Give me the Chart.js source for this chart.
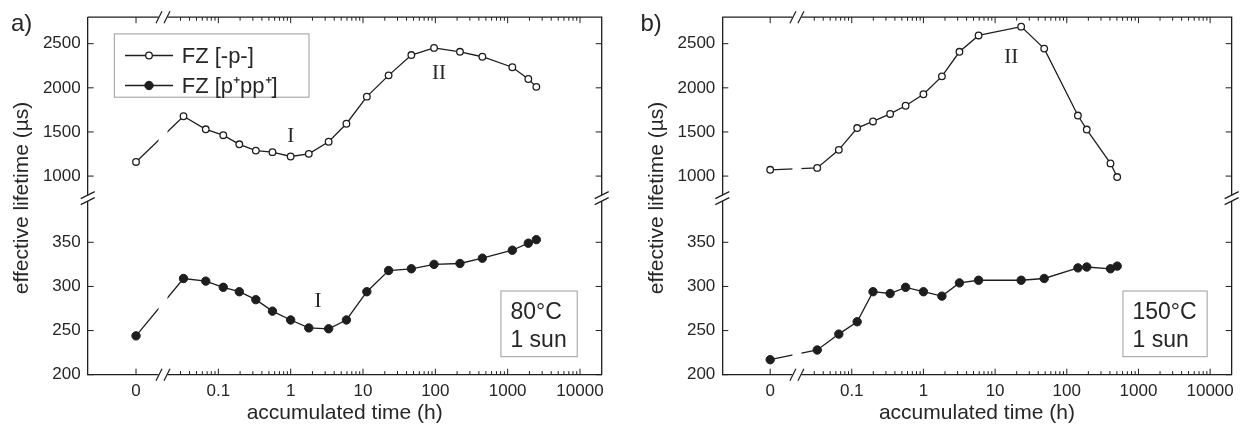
<!DOCTYPE html>
<html>
<head>
<meta charset="utf-8">
<script src="https://cdn.jsdelivr.net/npm/chart.js@4.4.1/dist/chart.umd.min.js"></script>
<style>
  html, body { margin: 0; padding: 0; background: #fff; }
  #wrap { position: relative; width: 1240px; height: 433px; }
  canvas { position: absolute; top: 0; }
</style>
</head>
<body>
<div id="wrap">
  <canvas id="panelA" width="620" height="433" style="left:0"></canvas>
  <canvas id="panelB" width="620" height="433" style="left:620px"></canvas>
</div>
<script>
// accumulated time (h) and effective lifetime (µs), 80°C / 1 sun
const hoursA = [0, 0.033, 0.067, 0.117, 0.195, 0.33, 0.56, 1.0, 1.78, 3.35, 5.9, 11.3, 22.6, 46.6, 96, 219, 447, 1160, 1930, 2490];
const fzA = [1160, 1678, 1530, 1463, 1360, 1289, 1271, 1222, 1252, 1389, 1593, 1900, 2141, 2371, 2452, 2408, 2352, 2233, 2100, 2011];
const fzPppA = [244, 309, 306, 299, 294, 285, 272, 262, 253, 252, 262, 294, 318, 320, 325, 326, 332, 341, 349, 353];

// 150°C / 1 sun
const hoursB = [0, 0.033, 0.066, 0.119, 0.198, 0.343, 0.564, 1.0, 1.81, 3.18, 5.88, 23.1, 48.4, 143, 190, 407, 505];
const fzB = [1071, 1093, 1297, 1544, 1619, 1704, 1797, 1927, 2130, 2408, 2593, 2693, 2444, 1686, 1527, 1144, 989];
const fzPppB = [217, 228, 246, 260, 294, 292, 299, 294, 289, 304, 307, 307, 309, 321, 322, 320, 323];

const xTickHours = [0, 0.1, 1, 10, 100, 1000, 10000];
const xTickLabels = ['0', '0.1', '1', '10', '100', '1000', '10000'];
const upperTicks = [1000, 1500, 2000, 2500];
const lowerTicks = [200, 250, 300, 350];

// x axis runs in decades; t = 0 gets its own spot left of the break
const ZERO_POS = -2.138;
const X_MIN = -2.806, X_MAX = 4.30;
const X_BREAK = -1.765;
const axisPos = h => (h === 0 ? ZERO_POS : Math.log10(h));

const SANS = '"Liberation Sans", Arial, sans-serif';
const SERIF = '"Liberation Serif", "Times New Roman", serif';
const INK = '#1e1e1e';
const TEXT = '#262626';

function slash(ctx, x, y, dx, dy) {
  ctx.moveTo(x - dx, y + dy);
  ctx.lineTo(x + dx, y - dy);
}

function makePanel(id, p) {
  const decor = {
    id: 'decor',
    afterDatasetsDraw(chart) {
      const ctx = chart.ctx;
      const a = chart.chartArea;
      const x = chart.scales.x, yT = chart.scales.yTop, yB = chart.scales.yBot;
      ctx.save();
      ctx.strokeStyle = INK;
      ctx.lineWidth = 1.3;
      ctx.beginPath();
      ctx.moveTo(a.left, a.top);
      ctx.lineTo(a.right, a.top);
      ctx.lineTo(a.right, a.bottom);
      ctx.stroke();

      // inward ticks on all four sides
      const bx = x.getPixelForValue(X_BREAK);
      ctx.lineWidth = 1;
      ctx.beginPath();
      const tickX = (u, len) => {
        const px = x.getPixelForValue(u);
        ctx.moveTo(px, a.bottom); ctx.lineTo(px, a.bottom - len);
        ctx.moveTo(px, a.top); ctx.lineTo(px, a.top + len);
      };
      xTickHours.forEach(h => tickX(axisPos(h), 6));
      for (let d = -2; d <= 3; d++) {
        for (let k = 2; k <= 9; k++) {
          const u = Math.log10(k * Math.pow(10, d));
          if (x.getPixelForValue(u) > bx + 8 && u < X_MAX) tickX(u, 3.5);
        }
      }
      const tickY = (s, v) => {
        const py = s.getPixelForValue(v);
        ctx.moveTo(a.left, py); ctx.lineTo(a.left + 6, py);
        ctx.moveTo(a.right, py); ctx.lineTo(a.right - 6, py);
      };
      upperTicks.forEach(v => tickY(yT, v));
      lowerTicks.forEach(v => tickY(yB, v));
      ctx.stroke();

      // x break: cut the axes and the lines crossing it
      ctx.fillStyle = '#fff';
      ctx.fillRect(bx - 4.5, a.top - 3, 9, a.bottom - a.top + 6);
      // y break between the two stacked axes
      const yb = yB.top;
      ctx.fillRect(a.left - 3, yb - 3, 6, 6);
      ctx.fillRect(a.right - 3, yb - 3, 6, 6);

      ctx.lineWidth = 1.2;
      ctx.beginPath();
      [a.top, a.bottom].forEach(yy => {
        slash(ctx, bx - 4, yy, 3, 6);
        slash(ctx, bx + 4, yy, 3, 6);
      });
      [a.left, a.right].forEach(xx => {
        slash(ctx, xx, yb - 3, 7, 3.5);
        slash(ctx, xx, yb + 3, 7, 3.5);
      });
      ctx.stroke();
      ctx.restore();
    },
    afterDraw(chart) {
      const ctx = chart.ctx;
      const a = chart.chartArea;
      const x = chart.scales.x;
      ctx.save();
      ctx.fillStyle = TEXT;

      // axis titles
      ctx.font = '21px ' + SANS;
      ctx.textAlign = 'center';
      ctx.textBaseline = 'alphabetic';
      ctx.fillText('accumulated time (h)', (a.left + a.right) / 2, a.bottom + 44);
      ctx.save();
      ctx.translate(a.left - 59.4, (a.top + a.bottom) / 2 + 2);
      ctx.rotate(-Math.PI / 2);
      ctx.fillText('effective lifetime (µs)', 0, 0);
      ctx.restore();

      // panel letter
      ctx.font = '24px ' + SANS;
      ctx.textAlign = 'left';
      ctx.fillText(p.letter, p.letterX, 31);

      // roman numerals marking the stages
      ctx.font = '21px ' + SERIF;
      ctx.textAlign = 'center';
      ctx.textBaseline = 'middle';
      p.notes.forEach(n => {
        ctx.fillText(n.text, x.getPixelForValue(axisPos(n.hours)), chart.scales[n.axis].getPixelForValue(n.value));
      });

      // condition box, bottom right
      ctx.font = '23px ' + SANS;
      ctx.textAlign = 'left';
      ctx.textBaseline = 'alphabetic';
      const w = Math.max(...p.condition.map(s => ctx.measureText(s).width)) + 20;
      const bxR = a.right - 24.5, bxB = a.bottom - 18;
      ctx.strokeStyle = '#9c9c9c';
      ctx.lineWidth = 1;
      ctx.strokeRect(bxR - w, bxB - 65.7, w, 65.7);
      p.condition.forEach((s, i) => ctx.fillText(s, bxR - w + 9.5, bxB - 37.4 + i * 27.4));

      // legend
      if (p.legend) {
        const lx = a.left + 26.6, ly = a.top + 16.7;
        ctx.strokeRect(lx, ly, 194.7, 63.3);
        ctx.font = '22px ' + SANS;
        ctx.textBaseline = 'middle';
        chart.data.datasets.forEach((ds, i) => {
          const ry = ly + 21.6 + i * 30;
          ctx.strokeStyle = ds.borderColor;
          ctx.lineWidth = ds.borderWidth;
          ctx.beginPath();
          ctx.moveTo(lx + 10.7, ry);
          ctx.lineTo(lx + 58.7, ry);
          ctx.stroke();
          ctx.beginPath();
          ctx.arc(lx + 34.7, ry, ds.pointRadius, 0, Math.PI * 2);
          ctx.fillStyle = ds.pointBackgroundColor;
          ctx.fill();
          ctx.lineWidth = ds.pointBorderWidth;
          ctx.stroke();
          ctx.fillStyle = TEXT;
          ctx.fillText(ds.label, lx + 67.4, ry + 1);
        });
      }
      ctx.restore();
    }
  };

  const fixedWidth = s => { s.width = p.axisWidth; };
  const yCommon = {
    type: 'linear',
    position: 'left',
    stack: 'lifetime',
    grid: { display: false, drawTicks: false },
    border: { color: INK, width: 1.3 },
    ticks: {
      color: TEXT,
      font: { family: SANS, size: 17 },
      padding: 7,
      callback: v => String(v)
    },
    afterFit: fixedWidth
  };

  return new Chart(document.getElementById(id), {
    type: 'line',
    data: {
      datasets: [
        {
          label: 'FZ [-p-]',
          data: p.hours.map((h, i) => ({ x: axisPos(h), y: p.open[i] })),
          yAxisID: 'yTop',
          borderColor: INK,
          borderWidth: 1.3,
          pointRadius: 3.3,
          pointBorderWidth: 1.3,
          pointBackgroundColor: '#fff',
          pointBorderColor: INK,
          tension: 0
        },
        {
          label: 'FZ [p⁺pp⁺]',
          data: p.hours.map((h, i) => ({ x: axisPos(h), y: p.filled[i] })),
          yAxisID: 'yBot',
          borderColor: INK,
          borderWidth: 1.3,
          pointRadius: 4.2,
          pointBorderWidth: 1,
          pointBackgroundColor: INK,
          pointBorderColor: INK,
          tension: 0
        }
      ]
    },
    options: {
      responsive: false,
      animation: false,
      events: [],
      layout: { padding: { top: 10, right: p.padRight, left: 0, bottom: 0 } },
      plugins: { legend: { display: false }, tooltip: { enabled: false } },
      scales: {
        x: {
          type: 'linear',
          min: X_MIN,
          max: X_MAX,
          grid: { display: false, drawTicks: false },
          border: { color: INK, width: 1.3 },
          ticks: {
            color: TEXT,
            font: { family: SANS, size: 17 },
            padding: 6,
            autoSkip: false,
            maxRotation: 0,
            callback: (v, i) => xTickLabels[i]
          },
          afterBuildTicks: s => { s.ticks = xTickHours.map(h => ({ value: axisPos(h) })); },
          afterFit: s => { s.height = 58.3; }
        },
        yTop: Object.assign({}, yCommon, {
          min: 750, max: 2800, stackWeight: 2.05, weight: 1,
          afterBuildTicks: s => { s.ticks = upperTicks.map(v => ({ value: v })); }
        }),
        yBot: Object.assign({}, yCommon, {
          min: 200, max: 400, stackWeight: 2.0, weight: 0,
          afterBuildTicks: s => { s.ticks = lowerTicks.map(v => ({ value: v })); }
        })
      }
    },
    plugins: [decor]
  });
}

makePanel('panelA', {
  hours: hoursA, open: fzA, filled: fzPppA,
  axisWidth: 87.7, padRight: 18.3,
  letter: 'a)', letterX: 11,
  legend: true,
  condition: ['80°C', '1 sun'],
  notes: [
    { text: 'I', hours: 1, value: 1444, axis: 'yTop' },
    { text: 'II', hours: 112, value: 2167, axis: 'yTop' },
    { text: 'I', hours: 2.38, value: 283, axis: 'yBot' }
  ]
});

makePanel('panelB', {
  hours: hoursB, open: fzB, filled: fzPppB,
  axisWidth: 102.3, padRight: 3.3,
  letter: 'b)', letterX: 20.5,
  legend: false,
  condition: ['150°C', '1 sun'],
  notes: [
    { text: 'II', hours: 16.8, value: 2344, axis: 'yTop' }
  ]
});
</script>
</body>
</html>
